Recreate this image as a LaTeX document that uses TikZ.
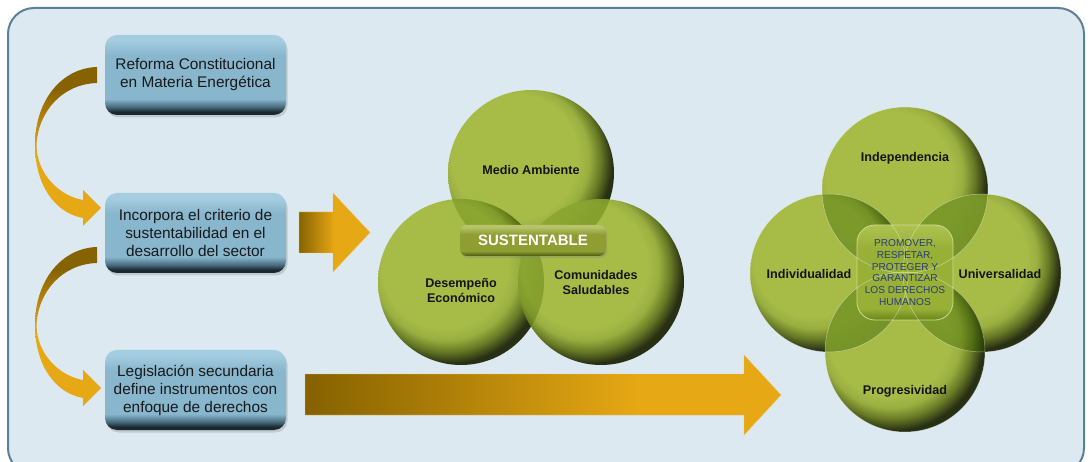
\documentclass[tikz,border=0pt]{standalone}
\usepackage{fontspec}
\setmainfont{Liberation Sans}
\usetikzlibrary{shadows}
\definecolor{bgfill}{HTML}{DDE9F1}
\definecolor{framec}{HTML}{5C8196}
\definecolor{arrdk}{HTML}{876300}
\definecolor{arrgold}{HTML}{E6A814}
\definecolor{gA}{HTML}{A3B93B}
\definecolor{gA2}{HTML}{94AA32}
\definecolor{gB}{HTML}{5E7116}
\definecolor{gC}{HTML}{1A2203}
\definecolor{glens}{HTML}{3F6A10}
\definecolor{bxtop}{HTML}{A4CDE0}
\definecolor{bxmid}{HTML}{88B6CD}
\definecolor{bxlow}{HTML}{46697A}
\definecolor{bxdk}{HTML}{1A2830}
\definecolor{navy}{HTML}{2A3B7A}
\definecolor{stop}{HTML}{B8C46A}
\definecolor{smid}{HTML}{8E9E33}
\definecolor{sdk}{HTML}{4A5810}
\definecolor{ctop}{HTML}{ADC250}
\definecolor{cmid}{HTML}{98B036}
\definecolor{cbot}{HTML}{6A861A}
\pgfdeclareverticalshading{boxshade}{100bp}{color(0bp)=(bxdk); color(25bp)=(bxdk); color(27bp)=(bxdk); color(30bp)=(bxlow); color(35bp)=(bxmid); color(62bp)=(bxmid); color(72bp)=(bxtop); color(75bp)=(bxtop); color(100bp)=(bxtop)}
\pgfdeclareverticalshading{sushade}{100bp}{color(0bp)=(sdk); color(25bp)=(sdk); color(33bp)=(smid); color(60bp)=(smid); color(72bp)=(stop); color(100bp)=(stop)}
\pgfdeclareverticalshading{censhade}{100bp}{color(0bp)=(cbot); color(25bp)=(cbot); color(31bp)=(cmid); color(62bp)=(cmid); color(75bp)=(ctop); color(100bp)=(ctop)}
\pgfdeclareradialshading{ballg}{\pgfpoint{-8bp}{8bp}}{color(0bp)=(gA); color(19bp)=(gA); color(22bp)=(gA2); color(25bp)=(gB); color(28bp)=(gC); color(50bp)=(gC)}
\pgfdeclarehorizontalshading{arrshA}{100bp}{color(0bp)=(arrdk); color(25bp)=(arrdk); color(50bp)=(arrgold); color(100bp)=(arrgold)}
\pgfdeclarehorizontalshading{arrshB}{100bp}{color(0bp)=(arrdk); color(26bp)=(arrdk); color(60bp)=(arrgold); color(100bp)=(arrgold)}
\pgfdeclareverticalshading{curvsh}{100bp}{color(0bp)=(arrgold); color(25bp)=(arrgold); color(48bp)=(arrgold); color(68bp)=(arrdk); color(100bp)=(arrdk)}
\begin{document}
\begin{tikzpicture}[x=1pt,y=-1pt,
  stepbox/.style={shading=boxshade, rounded corners=12pt, minimum width=181pt, minimum height=80pt,
    align=center, text=black!90, font=\fontsize{15.4}{18}\selectfont,
    drop shadow={opacity=0.3, shadow xshift=1.5pt, shadow yshift=-2.5pt}},
  ball/.style={shading=ballg, fill opacity=0.93},
  vlabel/.style={font=\bfseries\fontsize{12.6}{15}\selectfont, text=black!92, align=center},
  fatarrow/.style={draw=arrgold!70!white, line width=0.4pt},
  ring/.style={draw=white, draw opacity=0.45, line width=0.5pt}]
\useasboundingbox (0,0) rectangle (1090,462);
\fill[white] (0,0) rectangle (1090,462);
\begin{scope}
\clip (0,0) rectangle (1090,462);
\draw[framec, line width=2pt, fill=bgfill, rounded corners=26pt] (8,8) rectangle (1084,474);
\end{scope}

% left boxes
\node[stepbox] (b1) at (195.5,75) {Reforma Constitucional\\en Materia Energética};
\node[stepbox] (b2) at (195.5,233) {Incorpora el criterio de\\sustentabilidad en el\\desarrollo del sector};
\node[stepbox] (b3) at (195.5,390) {Legislación secundaria\\define instrumentos con\\enfoque de derechos};

% curved arrows
\foreach \dy/\nm in {0/ca1,180/ca2}{
\shade[shading=curvsh] (97,67+\dy) .. controls (62,68+\dy) and (35,100+\dy) .. (35,145+\dy)
  .. controls (35,185+\dy) and (55,213+\dy) .. (83,218+\dy)
  -- (83,226+\dy) -- (101,208+\dy) -- (83,190+\dy) -- (83,200+\dy)
  .. controls (60,196+\dy) and (37,175+\dy) .. (36.5,145+\dy)
  .. controls (38,112+\dy) and (62,84+\dy) .. (97,83+\dy) -- cycle;
}

% straight arrows
\shade[shading=arrshA, fatarrow] (299,212) -- (333,212) -- (333,193) -- (370,232.5) -- (333,272) -- (333,253) -- (299,253) -- cycle;
\shade[shading=arrshB, fatarrow] (305,374) -- (744,374) -- (744,355) -- (781,395) -- (744,435) -- (744,415) -- (305,415) -- cycle;

% Venn 1
\shade[ball] (531,173) circle[radius=83pt];
\shade[ball] (461,282) circle[radius=83pt];
\shade[ball] (601,282) circle[radius=83pt];
\begin{scope}[fill opacity=0.22]
  \begin{scope}\clip (531,173) circle[radius=83pt]; \fill[glens] (461,282) circle[radius=83pt]; \fill[glens] (601,282) circle[radius=83pt];\end{scope}
  \begin{scope}\clip (461,282) circle[radius=83pt]; \fill[glens] (601,282) circle[radius=83pt];\end{scope}
\end{scope}
\node[vlabel] (ma) at (531,170) {Medio Ambiente};
\node[vlabel] (de) at (461,291) {Desempeño\\Económico};
\node[vlabel] (cs) at (596,282) {Comunidades\\Saludables};
\node[shading=sushade, rounded corners=7pt, minimum width=146pt, minimum height=31pt,
  text=white, font=\bfseries\fontsize{15}{17}\selectfont,
  drop shadow={opacity=0.3, shadow xshift=1pt, shadow yshift=-2pt}] (sus) at (533,240.5) {SUSTENTABLE};

% Venn 2
\shade[ball] (905,190) circle[radius=83pt];
\shade[ball] (829,273) circle[radius=79pt];
\shade[ball] (982,273) circle[radius=79pt];
\shade[ball] (905,352) circle[radius=80pt];
\begin{scope}[fill opacity=0.38]
  \begin{scope}\clip (905,190) circle[radius=83pt]; \fill[glens] (829,273) circle[radius=79pt]; \fill[glens] (982,273) circle[radius=79pt];\end{scope}
  \begin{scope}\clip (905,352) circle[radius=80pt]; \fill[glens] (829,273) circle[radius=79pt]; \fill[glens] (982,273) circle[radius=79pt];\end{scope}
\end{scope}
\shade[shading=censhade, rounded corners=18pt] (857,225) rectangle (953,320);
\draw[ctop!60!white, line width=0.8pt, rounded corners=18pt] (857,225) rectangle (953,320);
\draw[ring] (905,190) circle[radius=83pt] (829,273) circle[radius=79pt]
  (982,273) circle[radius=79pt] (905,352) circle[radius=80pt];
\node[text=navy, align=center, font=\fontsize{10.1}{11.7}\selectfont] (hrt) at (905,272.5) {PROMOVER,\\RESPETAR,\\PROTEGER Y\\GARANTIZAR\\LOS DERECHOS\\HUMANOS};
\node[vlabel] (ind) at (905,158) {Independencia};
\node[vlabel] (ivl) at (809,274) {Individualidad};
\node[vlabel] (uni) at (1000,274) {Universalidad};
\node[vlabel] (pro) at (905,391) {Progresividad};
\end{tikzpicture}
\end{document}
